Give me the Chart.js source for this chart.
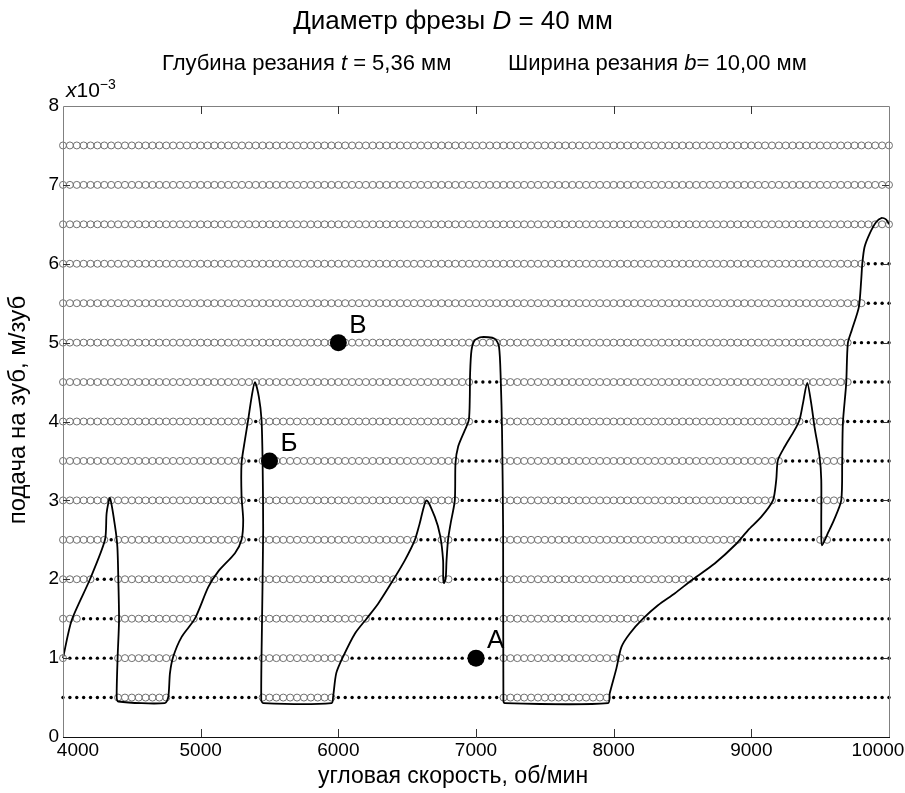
<!DOCTYPE html>
<html>
<head>
<meta charset="utf-8">
<script src="https://cdn.jsdelivr.net/npm/chart.js@4.4.1/dist/chart.umd.min.js"></script>
<style>
  html, body { margin: 0; padding: 0; background: #fff; }
  #wrap { width: 905px; height: 793px; }
</style>
</head>
<body>
<div id="wrap"><canvas id="chart" width="905" height="793"></canvas></div>
<script>
// расчётная сетка по частоте вращения, об/мин
const speedStart = 4000;
const speedEnd = 10000;
const speedStep = 50;

// уровни подачи на зуб (x10^-3 м/зуб)
const feedLevels = [0.5, 1.0, 1.5, 2.0, 2.5, 3.0, 3.5, 4.0, 4.5, 5.0, 5.5, 6.0, 6.5, 7.0, 7.5];

// интервалы скоростей, где точка неустойчива (мелкие точки), для каждого уровня подачи
const unstableRanges = [
  [[4000, 4350], [4800, 5400], [6000, 7150], [8000, 10000]],
  [[4050, 4350], [4850, 5400], [6100, 7150], [8100, 10000]],
  [[4150, 4350], [5000, 5400], [6250, 7150], [8250, 10000]],
  [[4250, 4350], [5150, 5400], [6450, 6700], [6850, 7150], [8600, 10000]],
  [[4350, 4350], [5350, 5400], [6600, 6700], [6850, 7150], [8950, 9450], [9600, 10000]],
  [[5350, 5400], [6900, 7150], [9200, 9450], [9700, 10000]],
  [[5350, 5400], [6900, 7150], [9250, 9450], [9700, 10000]],
  [[5400, 5400], [7000, 7150], [9400, 9400], [9700, 10000]],
  [[7000, 7150], [9750, 10000]],
  [[9750, 10000]],
  [[9850, 10000]],
  [[9850, 10000]],
  [],
  [],
  []
];

// граница устойчивости (лепестки)
const lobeSpeed = [4000, 4063, 4196, 4305, 4317, 4341, 4378, 4395, 4402, 4407, 4397, 4390, 4402, 4740,
  4765, 4777, 4801, 4862, 4958, 5055, 5128, 5249, 5297, 5309, 5297, 5297, 5321, 5345, 5370, 5394,
  5423, 5442, 5450, 5454, 5446, 5440, 5454, 5951, 5962, 5985, 6035, 6120, 6205, 6289, 6398, 6483,
  6556, 6590, 6640, 6701, 6740, 6761, 6762, 6768, 6780, 6786, 6797, 6815, 6846, 6851, 6870, 6919,
  6948, 6955, 6957, 6967, 6991, 7040, 7136, 7167, 7180, 7189, 7197, 7199, 7209, 7959, 7971, 8020,
  8056, 8116, 8213, 8322, 8443, 8576, 8734, 8891, 8975, 9072, 9157, 9181, 9193, 9242, 9314, 9350,
  9375, 9406, 9435, 9459, 9496, 9508, 9508, 9513, 9560, 9600, 9653, 9660, 9665, 9689, 9701, 9730,
  9781, 9798, 9806, 9822, 9859, 9907, 9944, 9980, 10000];
const lobeFeed = [1.0, 1.48, 2.0, 2.5, 2.84, 3.03, 2.67, 2.41, 1.99, 1.48, 1.02, 0.51, 0.45, 0.43,
  0.51, 0.81, 1.02, 1.27, 1.5, 1.9, 2.1, 2.33, 2.5, 2.75, 3.05, 3.47, 3.76, 4.02, 4.31, 4.5,
  4.31, 4.02, 3.47, 2.62, 1.5, 0.47, 0.43, 0.43, 0.51, 0.81, 1.02, 1.31, 1.5, 1.69, 1.99, 2.24,
  2.5, 2.7, 3.0, 2.79, 2.55, 2.24, 2.01, 1.95, 2.01, 2.24, 2.5, 2.7, 3.0, 3.47, 3.68, 3.89,
  4.02, 4.31, 4.6, 4.9, 5.03, 5.07, 5.05, 4.95, 4.52, 3.89, 2.62, 0.47, 0.43, 0.43, 0.55, 0.87,
  1.14, 1.31, 1.5, 1.67, 1.82, 2.0, 2.2, 2.45, 2.62, 2.79, 3.0, 3.26, 3.51, 3.68, 3.89, 4.02,
  4.23, 4.49, 4.23, 3.93, 3.55, 3.26, 2.62, 2.43, 2.6, 2.75, 3.0, 3.47, 3.98, 4.48, 4.99, 5.16,
  5.45, 5.79, 6.0, 6.21, 6.38, 6.53, 6.58, 6.56, 6.5];

// отмеченные режимы
const markNames = ['A', 'Б', 'В'];
const markSpeed = [7000, 5500, 6000];
const markFeed = [1.0, 3.5, 5.0];

const xTicks = [4000, 5000, 6000, 7000, 8000, 9000, 10000];
const yTicks = [0, 1, 2, 3, 4, 5, 6, 7, 8];

const stablePts = [];
const unstablePts = [];
feedLevels.forEach((f, i) => {
  for (let s = speedStart; s <= speedEnd; s += speedStep) {
    const bad = unstableRanges[i].some(r => s >= r[0] && s <= r[1]);
    (bad ? unstablePts : stablePts).push({x: s, y: f});
  }
});
const lobePts = lobeSpeed.map((s, i) => ({x: s, y: lobeFeed[i]}));
const markPts = markSpeed.map((s, i) => ({x: s, y: markFeed[i]}));

const FONT = '"Liberation Sans", Arial, sans-serif';

// рисуем текст из кусков (обычный / курсив)
function runs(ctx, parts, size, x, y, align) {
  const widths = parts.map(p => {
    ctx.font = (p[1] ? 'italic ' : '') + size + 'px ' + FONT;
    return ctx.measureText(p[0]).width;
  });
  const total = widths.reduce((a, b) => a + b, 0);
  let cx = align === 'center' ? x - total / 2 : x;
  ctx.textAlign = 'left';
  parts.forEach((p, i) => {
    ctx.font = (p[1] ? 'italic ' : '') + size + 'px ' + FONT;
    ctx.fillText(p[0], cx, y);
    cx += widths[i];
  });
  return cx;
}

const decor = {
  id: 'decor',
  afterDraw(chart) {
    const {ctx, chartArea: a, scales: {x, y}} = chart;
    ctx.save();

    // рамка
    ctx.lineWidth = 1;
    ctx.strokeStyle = '#808080';
    ctx.beginPath();
    ctx.moveTo(a.left + 0.5, a.bottom);
    ctx.lineTo(a.left + 0.5, a.top + 0.5);
    ctx.lineTo(a.right + 0.5, a.top + 0.5);
    ctx.lineTo(a.right + 0.5, a.bottom);
    ctx.stroke();
    ctx.strokeStyle = '#111';
    ctx.beginPath();
    ctx.moveTo(a.left, a.bottom + 0.5);
    ctx.lineTo(a.right + 1, a.bottom + 0.5);
    ctx.stroke();

    // засечки внутрь
    ctx.strokeStyle = '#333';
    xTicks.slice(1, -1).forEach(v => {
      const px = Math.round(x.getPixelForValue(v)) + 0.5;
      ctx.beginPath();
      ctx.moveTo(px, a.bottom); ctx.lineTo(px, a.bottom - 8);
      ctx.moveTo(px, a.top); ctx.lineTo(px, a.top + 8);
      ctx.stroke();
    });
    yTicks.slice(1, -1).forEach(v => {
      const py = Math.round(y.getPixelForValue(v)) + 0.5;
      ctx.beginPath();
      ctx.moveTo(a.left, py); ctx.lineTo(a.left + 7, py);
      ctx.moveTo(a.right, py); ctx.lineTo(a.right - 7, py);
      ctx.stroke();
    });

    ctx.fillStyle = '#000';
    ctx.textBaseline = 'top';
    ctx.font = '19px ' + FONT;
    ctx.textAlign = 'center';
    xTicks.forEach((v, i) => {
      let shift = 0;
      if (i === 0) shift = 15;
      if (i === xTicks.length - 1) shift = -11;
      ctx.fillText(String(v), x.getPixelForValue(v) + shift, a.bottom + 4);
    });

    // множитель оси
    ctx.textBaseline = 'alphabetic';
    const ex = runs(ctx, [['x', true], ['10', false]], 21, 66, 97, 'left');
    ctx.font = '14px ' + FONT;
    ctx.fillText('\u22123', ex, 89);

    // заголовки
    runs(ctx, [['Диаметр фрезы ', false], ['D', true], [' = 40 мм', false]], 26, 453, 29, 'center');
    runs(ctx, [['Глубина резания ', false], ['t', true], [' = 5,36 мм', false]], 22, 162, 70, 'left');
    runs(ctx, [['Ширина резания ', false], ['b', true], ['= 10,00 мм', false]], 22, 508, 70, 'left');

    // подписи осей
    ctx.textAlign = 'center';
    ctx.textBaseline = 'middle';
    ctx.font = '23px ' + FONT;
    ctx.fillText('угловая скорость, об/мин', 453, 777);
    ctx.save();
    ctx.translate(18, 410);
    ctx.rotate(-Math.PI / 2);
    ctx.font = '24px ' + FONT;
    ctx.fillText('подача на зуб, м/зуб', 0, 0);
    ctx.restore();

    // буквы у отмеченных точек
    ctx.font = '26px ' + FONT;
    ctx.textAlign = 'left';
    markNames.forEach((n, i) => {
      ctx.fillText(n, x.getPixelForValue(markSpeed[i]) + 11, y.getPixelForValue(markFeed[i]) - 17);
    });
    ctx.restore();
  }
};

Chart.defaults.font.family = FONT;
Chart.defaults.color = '#000';

new Chart(document.getElementById('chart'), {
  type: 'scatter',
  data: {
    datasets: [
      {
        data: markPts,
        order: 0,
        pointStyle: 'circle',
        pointRadius: 8.5,
        backgroundColor: '#000',
        borderColor: '#000',
        borderWidth: 0,
        clip: false
      },
      {
        data: lobePts,
        order: 1,
        showLine: true,
        borderColor: '#000',
        borderWidth: 1.8,
        pointRadius: 0,
        tension: 0.25,
        fill: false,
        clip: false
      },
      {
        data: unstablePts,
        order: 2,
        pointStyle: 'circle',
        pointRadius: 1.7,
        backgroundColor: '#000',
        borderWidth: 0,
        clip: false
      },
      {
        data: stablePts,
        order: 3,
        pointStyle: 'circle',
        pointRadius: 3.5,
        backgroundColor: 'rgba(0,0,0,0)',
        borderColor: '#707070',
        borderWidth: 1,
        clip: false
      }
    ]
  },
  options: {
    responsive: false,
    animation: false,
    devicePixelRatio: 1,
    events: [],
    layout: { padding: { top: 106, right: 16, left: 0, bottom: 0 } },
    plugins: {
      legend: { display: false },
      tooltip: { enabled: false },
      title: { display: false }
    },
    scales: {
      x: {
        type: 'linear',
        min: 4000,
        max: 10000,
        grid: { display: false },
        border: { display: false },
        ticks: { display: false, stepSize: 1000 },
        afterFit: s => { s.height = 56; }
      },
      y: {
        min: 0,
        max: 8,
        grid: { display: false, drawTicks: false },
        border: { display: false },
        ticks: { stepSize: 1, padding: 4, font: { size: 19 }, color: '#000' },
        afterFit: s => { s.width = 63; }
      }
    }
  },
  plugins: [decor]
});
</script>
</body>
</html>
